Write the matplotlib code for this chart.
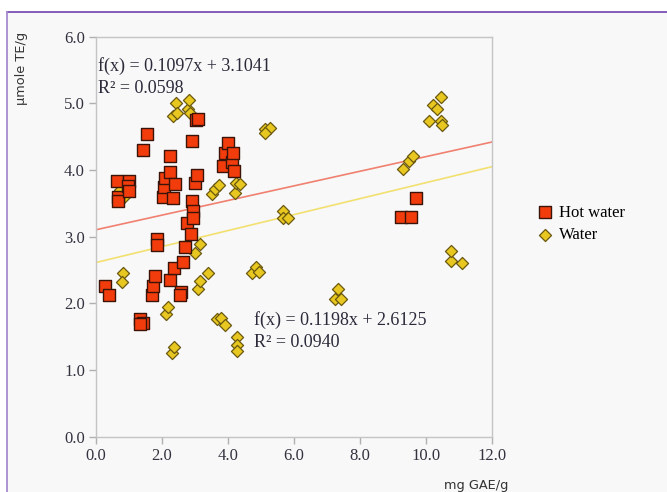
import matplotlib
matplotlib.use("Agg")
import matplotlib.pyplot as plt
from matplotlib.patches import Rectangle
from matplotlib.lines import Line2D

# hot water samples (mg GAE/g, umole TE/g)
hot_x = [0.27, 0.40, 0.63, 0.68, 0.66, 1.00, 0.98, 1.00, 1.33, 1.43, 1.33,
         1.43, 1.56, 1.69, 1.72, 1.80, 1.84, 1.84, 2.04, 2.07, 2.09, 2.24,
         2.24, 2.32, 2.39, 2.24, 2.37, 2.57, 2.55, 2.63, 2.70, 2.75, 2.87,
         2.90, 2.93, 2.93, 2.90, 3.00, 3.07, 3.03, 3.10, 3.86, 3.91, 4.01,
         4.11, 4.16, 4.18, 9.23, 9.54, 9.70]
hot_y = [2.26, 2.13, 3.83, 3.60, 3.54, 3.84, 3.76, 3.68, 1.76, 1.71, 1.69,
         4.30, 4.54, 2.13, 2.26, 2.41, 2.96, 2.88, 3.59, 3.75, 3.88, 3.97,
         4.21, 3.58, 3.79, 2.35, 2.53, 2.17, 2.12, 2.62, 2.85, 3.21, 3.04,
         3.53, 3.38, 3.28, 4.43, 3.81, 3.93, 4.75, 4.77, 4.06, 4.26, 4.40,
         4.12, 4.25, 3.98, 3.30, 3.30, 3.58]

# water samples
wat_x = [0.73, 0.86, 0.83, 0.78, 2.12, 2.19, 2.29, 2.37, 2.34, 2.42, 2.47,
         2.80, 2.85, 2.82, 3.00, 3.15, 3.08, 3.15, 3.40, 3.52, 3.62, 3.74,
         3.66, 3.80, 3.91, 4.22, 4.24, 4.35, 4.26, 4.28, 4.28, 4.72, 4.85,
         4.93, 5.12, 5.27, 5.12, 5.68, 5.68, 5.81, 7.24, 7.34, 7.44, 9.29,
         9.50, 9.62, 10.10, 10.22, 10.34, 10.47, 10.47, 10.49, 10.75, 10.76,
         11.09]
wat_y = [3.70, 3.60, 2.46, 2.32, 1.84, 1.95, 1.25, 1.34, 4.81, 5.01, 4.85,
         4.91, 4.86, 5.05, 2.76, 2.89, 2.21, 2.33, 2.46, 3.64, 3.71, 3.78,
         1.76, 1.78, 1.68, 3.65, 3.80, 3.79, 1.50, 1.38, 1.29, 2.45, 2.55,
         2.47, 4.61, 4.63, 4.55, 3.39, 3.28, 3.28, 2.06, 2.21, 2.07, 4.01,
         4.14, 4.21, 4.74, 4.98, 4.91, 5.10, 4.73, 4.67, 2.63, 2.78, 2.61]

# trend lines given on the chart
hot_fit = (0.1097, 3.1041)
wat_fit = (0.1198, 2.6125)
x_ticks = [0, 2, 4, 6, 8, 10, 12]
y_ticks = [0, 1, 2, 3, 4, 5, 6]

red = "#f23c0c"
yellow = "#e8c820"
bg = "#f8f8f8"
serif = "Liberation Serif"

fig = plt.figure(figsize=(6.67, 4.92), dpi=100)
fig.patch.set_facecolor("white")
# panel background and purple border, kept behind the axes
fig.patches.append(Rectangle((0.0105, 0), 0.99, 0.9756, transform=fig.transFigure,
                             facecolor=bg, edgecolor="none", zorder=-10))
fig.lines.append(Line2D([0.0105, 1], [0.9756, 0.9756], transform=fig.transFigure,
                        color="#7a4fb4", lw=1.3, zorder=-5))
fig.lines.append(Line2D([0.0105, 0.0105], [0, 0.9756], transform=fig.transFigure,
                        color="#a88ad0", lw=1.3, zorder=-5))

ax = fig.add_axes([0.1439, 0.1124, 0.5937, 0.813])
ax.set_facecolor(bg)
ax.set_xlim(0, 12)
ax.set_ylim(0, 6)

for fit, c in [(hot_fit, "#f08070"), (wat_fit, "#f2e070")]:
    ax.plot([0, 12], [fit[1], fit[0] * 12 + fit[1]], color=c, lw=1.2, zorder=1)

ax.scatter(hot_x, hot_y, marker="s", s=70, c=red, edgecolors="#3a1408",
           linewidths=1.0, zorder=3, label="Hot water")
ax.scatter(wat_x, wat_y, marker="D", s=38, c=yellow, edgecolors="#6a5810",
           linewidths=0.9, zorder=2, label="Water")

ax.set_xticks(x_ticks)
ax.set_yticks(y_ticks)
ax.set_xticklabels([f"{v:.1f}" for v in x_ticks], fontfamily=serif, fontsize=12, color="#333340")
ax.set_yticklabels([f"{v:.1f}" for v in y_ticks], fontfamily=serif, fontsize=12, color="#333340")
ax.tick_params(direction="out", length=5, color="#b0b0b0", width=1, pad=3)
for s in ax.spines.values():
    s.set_color("#c4c4c4")
    s.set_linewidth(1.0)

eq_kw = dict(fontfamily=serif, fontsize=13, color="#2a2a3a")
ax.text(0.06, 5.56, "f(x) = 0.1097x + 3.1041", va="center", **eq_kw)
ax.text(0.06, 5.23, "R² = 0.0598", va="center", **eq_kw)
ax.text(4.79, 1.75, "f(x) = 0.1198x + 2.6125", va="center", **eq_kw)
ax.text(4.79, 1.42, "R² = 0.0940", va="center", **eq_kw)

fig.text(0.032, 0.935, "µmole TE/g", rotation=90, ha="center", va="top",
         fontsize=9.3, color="#333333")
fig.text(508 / 667, 1 - 485 / 492, "mg GAE/g", ha="right", va="center",
         fontsize=9.3, color="#333333")

fig.legend(loc="center left", bbox_to_anchor=(0.795, 0.545), frameon=False,
           prop={"family": serif, "size": 12}, handletextpad=0.3,
           labelspacing=0.4, borderaxespad=0, handlelength=1.0)

fig.savefig("out.png", dpi=100, facecolor=fig.get_facecolor())
